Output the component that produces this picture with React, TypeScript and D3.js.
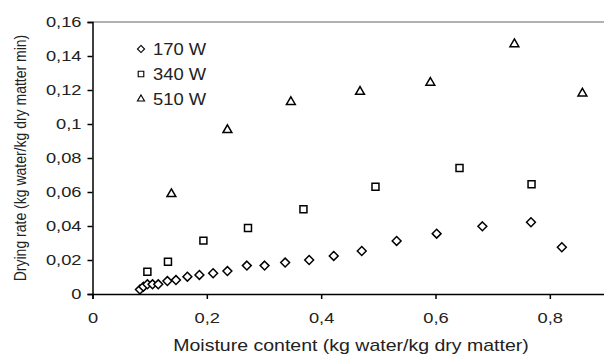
import React, { useRef, useEffect } from "react";
import * as d3 from "d3";

// 170 W
const mc170 = [0.083, 0.089, 0.096, 0.105, 0.115, 0.131, 0.146, 0.166, 0.187, 0.211, 0.236, 0.27, 0.301, 0.337, 0.379, 0.422, 0.471, 0.532, 0.602, 0.682, 0.767, 0.821];
const dr170 = [0.0026, 0.0043, 0.0057, 0.0057, 0.0057, 0.0076, 0.0082, 0.0102, 0.0112, 0.0122, 0.0135, 0.0167, 0.0167, 0.0185, 0.02, 0.0224, 0.0253, 0.0312, 0.0355, 0.0398, 0.0422, 0.0275];
// 340 W
const mc340 = [0.096, 0.132, 0.194, 0.272, 0.369, 0.495, 0.642, 0.768];
const dr340 = [0.0131, 0.019, 0.0314, 0.0388, 0.0498, 0.0631, 0.0741, 0.0645];
// 510 W
const mc510 = [0.138, 0.236, 0.347, 0.468, 0.591, 0.738, 0.857];
const dr510 = [0.0588, 0.0965, 0.113, 0.119, 0.1243, 0.147, 0.118];

const legendLabels = ["170 W", "340 W", "510 W"];
const xTicks = [0, 0.2, 0.4, 0.6, 0.8];
const yTicks = [0, 0.02, 0.04, 0.06, 0.08, 0.1, 0.12, 0.14, 0.16];

const fmt = (v: number) => String(+v.toFixed(2)).replace(".", ",");

const App = () => {
  const svgRef = useRef<SVGSVGElement>(null);

  useEffect(() => {
    const width = 604, height = 354;
    const margin = { top: 22, left: 92.5, bottom: 294 };
    const font = "Liberation Sans, Arial, sans-serif";
    const stretch = 1.22; // the source figure's text is a bit wide

    const svg = d3.select(svgRef.current)
      .attr("width", width)
      .attr("height", height)
      .style("background", "#fff");
    svg.selectAll("*").remove();

    const x = d3.scaleLinear().domain([0, 0.9]).range([margin.left, 607]);
    const y = d3.scaleLinear().domain([0, 0.16]).range([margin.bottom, margin.top]);

    // top border
    svg.append("line")
      .attr("x1", margin.left).attr("x2", width)
      .attr("y1", margin.top).attr("y2", margin.top)
      .attr("stroke", "#999").attr("stroke-width", 1.5);

    // X-axis
    const gx = svg.append("g")
      .attr("transform", `translate(0,${margin.bottom})`)
      .call(d3.axisBottom(x).tickValues(xTicks).tickSize(5).tickPadding(13).tickFormat(d => fmt(+d)));
    gx.select(".domain").attr("stroke", "#000").attr("stroke-width", 1.5);
    gx.selectAll(".tick line").attr("stroke", "#000").attr("stroke-width", 1.5);
    gx.selectAll("text")
      .attr("transform", `scale(${stretch},1)`)
      .style("font-family", font).style("font-size", "15px").attr("fill", "#222");

    // Y-axis
    const gy = svg.append("g")
      .attr("transform", `translate(${margin.left},0)`)
      .call(d3.axisLeft(y).tickValues(yTicks).tickSize(5).tickPadding(4).tickFormat(d => fmt(+d)));
    gy.select(".domain").attr("stroke", "#000").attr("stroke-width", 1.5);
    gy.selectAll(".tick line").attr("stroke", "#000").attr("stroke-width", 1.5);
    gy.selectAll("text")
      .attr("transform", `scale(${stretch},1)`)
      .style("font-family", font).style("font-size", "15px").attr("fill", "#222");

    const diamond = d3.symbol().type(d3.symbolDiamond2).size(50)();
    const square = d3.symbol().type(d3.symbolSquare2).size(62)();
    const triangle = d3.symbol().type(d3.symbolTriangle2).size(56)();

    const drawSeries = (xs: number[], ys: number[], path: string | null) => {
      svg.append("g").selectAll("path")
        .data(xs)
        .enter().append("path")
        .attr("d", path)
        .attr("transform", (d, i) => `translate(${x(d)},${y(ys[i])})`)
        .attr("fill", "#fff")
        .attr("stroke", "#000")
        .attr("stroke-width", 1.5);
    };
    drawSeries(mc170, dr170, diamond);
    drawSeries(mc340, dr340, square);
    drawSeries(mc510, dr510, triangle);

    // Legend
    const shapes = [diamond, square, triangle];
    const legend = svg.append("g");
    legendLabels.forEach((label, i) => {
      const ly = 49 + i * 25;
      legend.append("path")
        .attr("d", shapes[i])
        .attr("transform", `translate(141,${ly}) scale(0.8)`)
        .attr("fill", "#fff").attr("stroke", "#000").attr("stroke-width", 1.4);
      legend.append("text")
        .attr("transform", `translate(153,${ly + 5.5}) scale(1.15,1)`)
        .style("font-family", font).style("font-size", "16px")
        .attr("fill", "#222")
        .text(label);
    });

    // X-axis label
    svg.append("text")
      .attr("transform", `translate(351,351) scale(${stretch},1)`)
      .style("text-anchor", "middle")
      .style("font-family", font).style("font-size", "16px")
      .attr("fill", "#222")
      .text("Moisture content (kg water/kg dry matter)");

    // Y-axis label
    svg.append("text")
      .attr("transform", `translate(20,158) rotate(-90) scale(1,${stretch})`)
      .attr("dy", "0.35em")
      .style("text-anchor", "middle")
      .style("font-family", font).style("font-size", "14px")
      .attr("fill", "#222")
      .text("Drying rate (kg water/kg dry matter min)");
  }, []);

  return (
    <div style={{ position: "absolute", left: 0, top: 0 }}>
      <svg ref={svgRef} style={{ display: "block" }}></svg>
    </div>
  );
};

export default App;
